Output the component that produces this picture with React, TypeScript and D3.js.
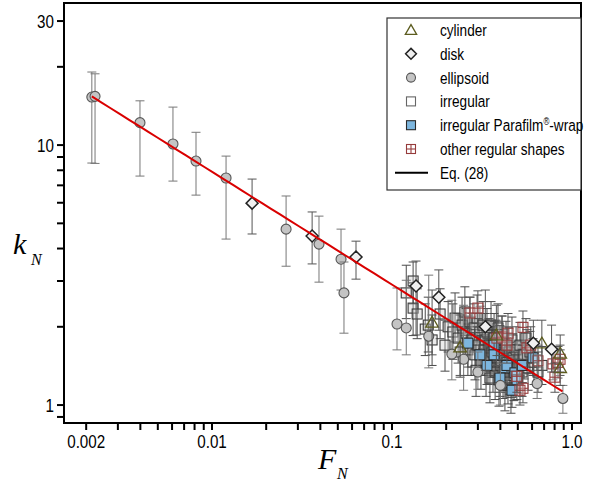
import React from "react";
import * as d3 from "d3";

// ---- data: [F_N, k_N, k_low, k_high] ----
const cylinder: number[][] = [
  [0.167, 2.08, 1.56, 2.77],
  [0.239, 1.67, 1.3, 2.22],
  [0.38, 1.86, 1.42, 2.42],
  [0.68, 1.73, 1.36, 2.12],
  [0.86, 1.58, 1.34, 1.86],
  [0.86, 1.39, 1.19, 1.63],
];
const disk: number[][] = [
  [0.0167, 5.98, 4.55, 7.4],
  [0.036, 4.47, 3.49, 5.53],
  [0.0631, 3.71, 3.05, 4.27],
  [0.136, 2.87, 1.86, 3.58],
  [0.182, 2.6, 1.94, 3.31],
  [0.33, 2.0, 1.36, 2.77],
  [0.61, 1.73, 1.36, 2.12],
  [0.77, 1.64, 1.34, 2.03],
];
const ellipsoid: number[][] = [
  [0.00215, 15.3, 8.53, 19.1],
  [0.00224, 15.4, 8.5, 18.8],
  [0.00398, 12.2, 7.6, 14.8],
  [0.00607, 10.1, 7.27, 14.0],
  [0.00815, 8.68, 6.42, 11.2],
  [0.01197, 7.47, 4.35, 9.07],
  [0.0258, 4.75, 3.42, 6.37],
  [0.0393, 4.16, 2.97, 5.33],
  [0.0521, 3.64, 2.77, 4.75],
  [0.0541, 2.7, 1.89, 3.55],
  [0.1066, 2.05, 1.63, 2.82],
  [0.12, 1.98, 1.56, 3.02],
  [0.16, 1.84, 1.39, 3.16],
  [0.215, 1.57, 1.25, 2.53],
  [0.25, 1.5, 1.14, 2.42],
  [0.3, 1.34, 1.15, 1.6],
  [0.4, 1.19, 1.0, 1.45],
  [0.64, 1.21, 1.06, 1.56],
  [0.89, 1.06, 0.93, 1.19],
];
const irregular: number[][] = [
  [0.131, 3.0, 2.45, 3.55], [0.12, 2.7, 2.15, 3.45], [0.131, 2.36, 1.85, 2.95],
  [0.138, 2.24, 1.8, 2.8], [0.153, 1.96, 1.55, 2.45], [0.159, 2.03, 1.6, 2.6],
  [0.185, 2.24, 1.8, 2.8], [0.205, 2.0, 1.6, 2.5], [0.218, 1.91, 1.5, 2.45],
  [0.224, 2.16, 1.75, 2.7], [0.233, 1.81, 1.45, 2.25], [0.245, 2.03, 1.6, 2.6],
  [0.254, 2.28, 1.85, 2.85], [0.258, 1.89, 1.5, 2.35], [0.264, 1.63, 1.3, 2.05],
  [0.271, 2.09, 1.7, 2.6], [0.278, 1.78, 1.4, 2.25], [0.286, 1.98, 1.6, 2.45],
  [0.289, 1.56, 1.25, 1.95], [0.297, 2.16, 1.75, 2.65], [0.301, 1.7, 1.35, 2.15],
  [0.308, 1.91, 1.55, 2.4], [0.312, 1.46, 1.15, 1.85], [0.32, 2.03, 1.65, 2.5],
  [0.325, 1.63, 1.3, 2.05], [0.329, 1.78, 1.4, 2.25], [0.333, 1.36, 1.08, 1.7],
  [0.337, 1.91, 1.55, 2.35], [0.342, 1.52, 1.2, 1.9], [0.346, 1.7, 1.35, 2.15],
  [0.35, 1.27, 1.02, 1.58], [0.355, 2.03, 1.65, 2.5], [0.359, 1.6, 1.28, 2.0],
  [0.364, 1.42, 1.12, 1.8], [0.369, 1.81, 1.45, 2.25], [0.374, 1.34, 1.05, 1.68],
  [0.378, 1.7, 1.35, 2.12], [0.383, 1.52, 1.2, 1.9], [0.388, 1.98, 1.6, 2.45],
  [0.393, 1.25, 0.99, 1.55], [0.398, 1.63, 1.3, 2.02], [0.403, 1.42, 1.12, 1.78],
  [0.408, 1.78, 1.42, 2.2], [0.414, 1.34, 1.06, 1.66], [0.419, 1.56, 1.24, 1.95],
  [0.424, 1.19, 0.95, 1.48], [0.43, 1.7, 1.36, 2.1], [0.435, 1.46, 1.16, 1.82],
  [0.441, 1.27, 1.01, 1.58], [0.447, 1.6, 1.28, 1.98], [0.452, 1.39, 1.1, 1.74],
  [0.458, 1.12, 0.93, 1.38], [0.464, 1.78, 1.44, 2.18], [0.47, 1.52, 1.22, 1.88],
  [0.476, 1.3, 1.04, 1.62], [0.489, 1.63, 1.32, 2.0], [0.501, 1.42, 1.14, 1.76],
  [0.514, 1.7, 1.38, 2.08], [0.528, 1.34, 1.08, 1.64], [0.541, 1.56, 1.26, 1.9],
  [0.555, 1.81, 1.5, 2.15], [0.57, 1.39, 1.14, 1.68], [0.584, 1.6, 1.32, 1.92],
  [0.615, 1.46, 1.2, 1.75], [0.647, 1.34, 1.12, 1.6], [0.681, 1.42, 1.2, 1.68],
  [0.167, 1.78, 1.42, 2.22], [0.197, 1.7, 1.35, 2.12], [0.239, 1.6, 1.28, 2.0],
  [0.293, 1.36, 1.08, 1.7],
];
const parafilm: number[][] = [
  [0.264, 1.73, 1.4, 2.2], [0.369, 1.7, 1.4, 2.1], [0.369, 1.56, 1.3, 1.95],
  [0.337, 1.42, 1.2, 1.8], [0.424, 1.39, 1.15, 1.75], [0.435, 1.42, 1.2, 1.75],
  [0.482, 1.33, 1.12, 1.6], [0.494, 1.25, 1.05, 1.5], [0.607, 1.52, 1.3, 1.8],
  [0.464, 1.14, 0.98, 1.35], [0.398, 1.27, 1.08, 1.55], [0.308, 1.56, 1.3, 1.9],
  [0.53, 1.42, 1.22, 1.7],
];
const otherShapes: number[][] = [
  [0.271, 2.26, 1.9, 2.6], [0.3, 2.36, 2.0, 2.75], [0.409, 1.83, 1.5, 2.2],
  [0.441, 1.89, 1.55, 2.25], [0.534, 1.99, 1.7, 2.3], [0.562, 1.66, 1.4, 1.95],
  [0.59, 1.7, 1.45, 2.0], [0.647, 1.48, 1.28, 1.7], [0.784, 1.44, 1.25, 1.65],
  [0.836, 1.46, 1.27, 1.68], [0.858, 1.5, 1.3, 1.7], [0.804, 1.28, 1.12, 1.45],
  [0.534, 1.16, 1.02, 1.32], [0.514, 1.14, 1.0, 1.3], [0.494, 1.29, 1.12, 1.5],
  [0.435, 1.7, 1.45, 2.0], [0.383, 1.81, 1.55, 2.1],
];
// Eq. (28): k = A * F^B
const eqA = 1.07;
const eqB = -0.434;
const eqRange = [0.00215, 0.885];

const xTickLabels = ["0.002", "0.01", "0.1", "1.0"];
const xTickValues = [0.002, 0.01, 0.1, 1.0];
const xMinor = [0.002, 0.003, 0.004, 0.005, 0.006, 0.007, 0.008, 0.009, 0.01, 0.02, 0.03, 0.04, 0.05, 0.06, 0.07, 0.08, 0.09, 0.1, 0.2, 0.3, 0.4, 0.5, 0.6, 0.7, 0.8, 0.9, 1.0];
const yTickLabels = ["1", "10", "30"];
const yTickValues = [1, 10, 30];
const yMinor = [0.9, 1, 2, 3, 4, 5, 6, 7, 8, 9, 10, 20, 30];

const legendItems = [
  { key: "cylinder", label: "cylinder" },
  { key: "disk", label: "disk" },
  { key: "ellipsoid", label: "ellipsoid" },
  { key: "irregular", label: "irregular" },
  { key: "parafilm", label: "irregular Parafilm|\u00AE|-wrap" },
  { key: "other", label: "other regular shapes" },
  { key: "eq", label: "Eq. (28)" },
];

const W = 592, H = 482;
const L = 64, R = 581, T = 3, B = 423;
const FONT = "'Liberation Sans', Arial, sans-serif";
const NARROW = 0.8;
const SERIF = "'Liberation Serif', 'DejaVu Serif', serif";

const x = d3.scaleLog().domain([0.001506, 1.122]).range([L, R]);
const y = d3.scaleLog().domain([0.853, 35.2]).range([B, T]);

function NText({ x: tx, y: ty, anchor, size, children }: { x: number; y: number; anchor?: string; size: number; children: React.ReactNode }) {
  return (
    <text transform={`translate(${tx},${ty}) scale(${NARROW},1)`} textAnchor={anchor || "start"} fontSize={size} fontFamily={FONT} fill="#000">
      {children}
    </text>
  );
}

function Marker({ type, cx, cy, legend }: { type: string; cx: number; cy: number; legend?: boolean }) {
  const s = legend ? 0.9 : 1;
  if (type === "cylinder") {
    const h = 6 * s;
    const pts = `${cx},${cy - h} ${cx + h * 1.05},${cy + h * 0.8} ${cx - h * 1.05},${cy + h * 0.8}`;
    return <polygon points={pts} fill="none" stroke="#5c5c1f" strokeWidth={1.3} />;
  }
  if (type === "disk") {
    const r = 6 * s;
    const pts = `${cx},${cy - r} ${cx + r},${cy} ${cx},${cy + r} ${cx - r},${cy}`;
    return <polygon points={pts} fill="#f0f0f0" stroke="#222" strokeWidth={1.5} />;
  }
  if (type === "ellipsoid") {
    return <circle cx={cx} cy={cy} r={5 * s} fill="#c4c4c4" stroke="#555" strokeWidth={1.1} />;
  }
  if (type === "irregular") {
    const r = 5 * s;
    return <rect x={cx - r} y={cy - r} width={2 * r} height={2 * r} fill={legend ? "#fff" : "rgba(200,200,200,0.35)"} stroke={legend ? "#666" : "#3a3a3a"} strokeWidth={1.1} />;
  }
  if (type === "parafilm") {
    const r = 5 * s;
    return <rect x={cx - r} y={cy - r} width={2 * r} height={2 * r} fill="#7db6de" stroke="#2a2a2a" strokeWidth={1.1} />;
  }
  if (type === "other") {
    const r = 5 * s;
    return (
      <g stroke="#963c3c" strokeWidth={1.1} fill="none">
        <rect x={cx - r} y={cy - r} width={2 * r} height={2 * r} fill="rgba(255,255,255,0.3)" />
        <line x1={cx - r} x2={cx + r} y1={cy} y2={cy} />
        <line x1={cx} x2={cx} y1={cy - r} y2={cy + r} />
      </g>
    );
  }
  return null;
}

function Series({ data, type, barColor }: { data: number[][]; type: string; barColor: string }) {
  return (
    <g>
      {data.map((d, i) => {
        const cx = x(d[0]);
        const cy = y(d[1]);
        const y0 = y(d[2]);
        const y1 = y(d[3]);
        return (
          <g key={i}>
            <g stroke={barColor} strokeWidth={1}>
              <line x1={cx} x2={cx} y1={y0} y2={y1} />
              <line x1={cx - 4.5} x2={cx + 4.5} y1={y0} y2={y0} />
              <line x1={cx - 4.5} x2={cx + 4.5} y1={y1} y2={y1} />
            </g>
            <Marker type={type} cx={cx} cy={cy} />
          </g>
        );
      })}
    </g>
  );
}

function Label({ text }: { text: string }) {
  const parts = text.split("|");
  if (parts.length === 1) return <>{text}</>;
  return (
    <>
      {parts[0]}
      <tspan fontSize={10} dy={-6}>{parts[1]}</tspan>
      <tspan dy={6}>{parts[2]}</tspan>
    </>
  );
}

export default function App() {
  const eqPts = d3.range(0, 51).map((i) => {
    const lf = Math.log10(eqRange[0]) + (i / 50) * (Math.log10(eqRange[1]) - Math.log10(eqRange[0]));
    const f = Math.pow(10, lf);
    return [f, eqA * Math.pow(f, eqB)];
  });
  const linePath = d3.line<number[]>().x((d) => x(d[0])).y((d) => y(d[1]))(eqPts) || "";

  const legX = 387, legY = 18, legW = 194, legH = 172;
  return (
    <svg width={W} height={H} style={{ position: "absolute", left: 0, top: 0, background: "#fff" }}>
      <rect width={W} height={H} fill="#fff" />
      {/* data */}
      <Series data={irregular} type="irregular" barColor="#4a4a4a" />
      <Series data={parafilm} type="parafilm" barColor="#4a4a4a" />
      <Series data={otherShapes} type="other" barColor="#555" />
      <Series data={ellipsoid} type="ellipsoid" barColor="#777" />
      <Series data={cylinder} type="cylinder" barColor="#555" />
      <Series data={disk} type="disk" barColor="#555" />
      <path d={linePath} fill="none" stroke="#d90000" strokeWidth={2} />

      {/* frame */}
      <rect x={L} y={T} width={R - L} height={B - T} fill="none" stroke="#000" strokeWidth={2} />
      {/* x ticks */}
      {xMinor.map((v, i) => (
        <line key={"xm" + i} x1={x(v)} x2={x(v)} y1={B} y2={B + 7} stroke="#000" strokeWidth={2} />
      ))}
      {xTickValues.map((v, i) => (
        <NText key={"xl" + i} x={x(v)} y={448} anchor="middle" size={19}>
          {xTickLabels[i]}
        </NText>
      ))}
      {/* y ticks */}
      {yMinor.map((v, i) => (
        <line key={"ym" + i} x1={L - 7} x2={L} y1={y(v)} y2={y(v)} stroke="#000" strokeWidth={2} />
      ))}
      {yTickValues.map((v, i) => (
        <NText key={"yl" + i} x={L - 10} y={y(v) + 7} anchor="end" size={19}>
          {yTickLabels[i]}
        </NText>
      ))}
      {/* axis titles */}
      <text x={13} y={254} fontFamily={SERIF} fontStyle="italic" fontSize={30} fill="#000">k</text>
      <text x={31} y={265} fontFamily={SERIF} fontStyle="italic" fontSize={16} fill="#000">N</text>
      <text x={318} y={469} fontFamily={SERIF} fontStyle="italic" fontSize={30} fill="#000">F</text>
      <text x={337} y={479} fontFamily={SERIF} fontStyle="italic" fontSize={16} fill="#000">N</text>

      {/* legend */}
      <rect x={legX} y={legY} width={legW} height={legH} fill="#fff" stroke="#333" strokeWidth={1.2} />
      {legendItems.map((it, i) => {
        const cy = 30 + i * 23.8;
        return (
          <g key={it.key}>
            {it.key === "eq" ? (
              <line x1={395} x2={428} y1={cy} y2={cy} stroke="#000" strokeWidth={2} />
            ) : (
              <Marker type={it.key} cx={411} cy={cy} legend />
            )}
            <NText x={440} y={cy + 6} size={17}>
              <Label text={it.label} />
            </NText>
          </g>
        );
      })}
    </svg>
  );
}
